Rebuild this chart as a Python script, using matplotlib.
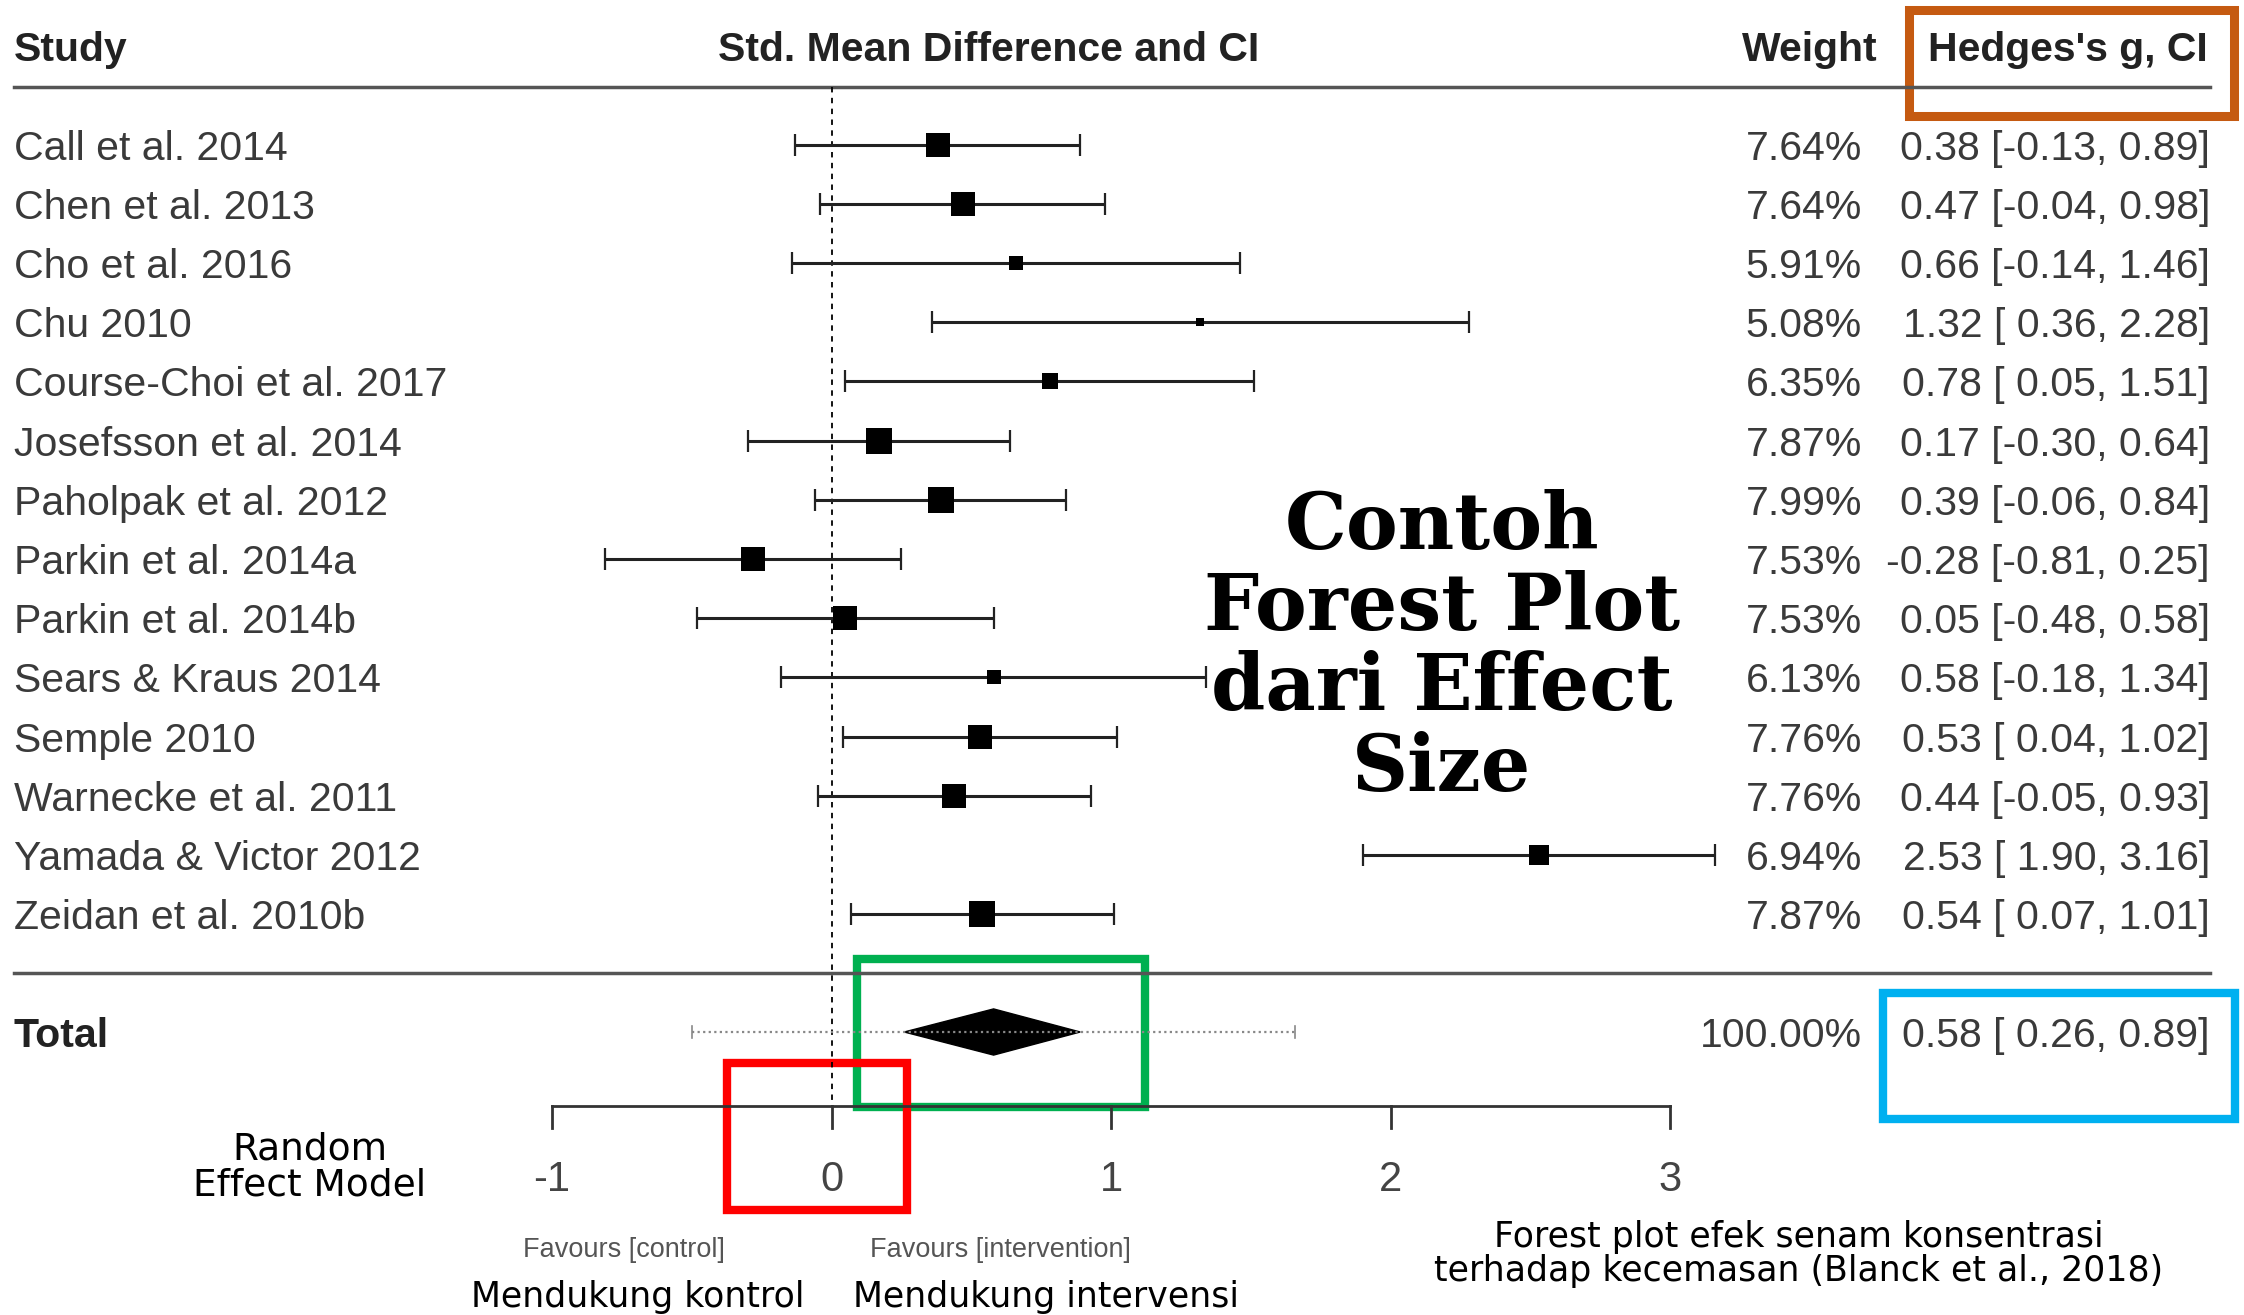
import matplotlib
matplotlib.use("Agg")
from matplotlib import pyplot as plt
from matplotlib.patches import Rectangle, Polygon

# Data
studies = ["Call et al. 2014", "Chen et al. 2013", "Cho et al. 2016", "Chu 2010",
           "Course-Choi et al. 2017", "Josefsson et al. 2014", "Paholpak et al. 2012",
           "Parkin et al. 2014a", "Parkin et al. 2014b", "Sears & Kraus 2014",
           "Semple 2010", "Warnecke et al. 2011", "Yamada & Victor 2012",
           "Zeidan et al. 2010b"]
weights = [7.64, 7.64, 5.91, 5.08, 6.35, 7.87, 7.99, 7.53, 7.53, 6.13, 7.76, 7.76, 6.94, 7.87]
g = [0.38, 0.47, 0.66, 1.32, 0.78, 0.17, 0.39, -0.28, 0.05, 0.58, 0.53, 0.44, 2.53, 0.54]
ci_low = [-0.13, -0.04, -0.14, 0.36, 0.05, -0.30, -0.06, -0.81, -0.48, -0.18, 0.04, -0.05, 1.90, 0.07]
ci_high = [0.89, 0.98, 1.46, 2.28, 1.51, 0.64, 0.84, 0.25, 0.58, 1.34, 1.02, 0.93, 3.16, 1.01]

total_g, total_low, total_high = 0.58, 0.26, 0.89
pred_low, pred_high = -0.50, 1.66
axis_ticks = [-1, 0, 1, 2, 3]

# layout helpers: figure pixels -> data (x in effect units, y in rows)
X0, UNIT = 831.5, 279.5
ROW0, ROWH = 144.5, 59.2
def px(x):
    return (x - X0) / UNIT
def py(y):
    return (y - ROW0) / ROWH

fig = plt.figure(figsize=(22.44, 13.15), dpi=100)
ax = fig.add_axes([0, 0, 1, 1])
ax.set_xlim(px(0), px(2244))
ax.set_ylim(py(1315), py(0))
ax.axis("off")

TXT = "#3a3a3a"
FONT = "Liberation Sans"
HAND = "DejaVu Sans"
FS = 29.5
DY = 0.07  # nudge text down to sit on the row

# Headers
ax.text(px(14), py(50), "Study", fontsize=FS, fontweight="bold", family=FONT, color="#222222", va="center")
ax.text(px(989), py(50), "Std. Mean Difference and CI", fontsize=FS, fontweight="bold", family=FONT,
        color="#222222", va="center", ha="center")
ax.text(px(1878), py(50), "Weight", fontsize=FS, fontweight="bold", family=FONT, color="#222222",
        va="center", ha="right")
ax.text(px(2208), py(50), "Hedges's g, CI", fontsize=FS, fontweight="bold", family=FONT,
        color="#222222", va="center", ha="right")
ax.plot([px(14), px(2210)], [py(87)] * 2, color="#555555", lw=2.5)
ax.plot([px(14), px(2210)], [py(973)] * 2, color="#555555", lw=2.5)

# zero line
ax.plot([0, 0], [py(87), py(1106)], color="black", lw=1.3, ls=(0, (3, 3)))

# Studies
for i, name in enumerate(studies):
    ax.text(px(14), i + DY, name, fontsize=FS, family=FONT, color=TXT, va="center")
    ax.errorbar(g[i], i, xerr=[[g[i] - ci_low[i]], [ci_high[i] - g[i]]], fmt="none",
                ecolor="#222222", elinewidth=2.2, capsize=8, capthick=1.6)
    ms = 4.3 * (weights[i] - 3.62)
    ax.plot(g[i], i, marker="s", color="black", ms=ms, mew=0)
    ax.text(px(1862), i + DY, f"{weights[i]:.2f}%", fontsize=FS, family=FONT, color=TXT,
            va="center", ha="right")
    ax.text(px(2210), i + DY, f"{g[i]:.2f} [{ci_low[i]:5.2f}, {ci_high[i]:.2f}]", fontsize=FS,
            family=FONT, color=TXT, va="center", ha="right")

# Total
yt = py(1032)
ax.text(px(14), yt + DY, "Total", fontsize=FS, fontweight="bold", family=FONT, color="#222222", va="center")
ax.plot([pred_low, pred_high], [yt, yt], color="#888888", lw=1.6, ls=(0, (1, 1.5)))
ax.plot([pred_low, pred_low], [yt - 0.1, yt + 0.1], color="#888888", lw=1.2)
ax.plot([pred_high, pred_high], [yt - 0.1, yt + 0.1], color="#888888", lw=1.2)
ax.add_patch(Polygon([[total_low, yt], [total_g, yt - 0.39], [total_high, yt], [total_g, yt + 0.39]],
                     closed=True, color="black"))
ax.text(px(1862), yt + DY, "100.00%", fontsize=FS, family=FONT, color=TXT, va="center", ha="right")
ax.text(px(2210), yt + DY, f"{total_g:.2f} [{total_low:5.2f}, {total_high:.2f}]", fontsize=FS,
        family=FONT, color=TXT, va="center", ha="right")

# x axis
ya = py(1106)
ax.plot([axis_ticks[0], axis_ticks[-1]], [ya, ya], color="#333333", lw=2)
for t in axis_ticks:
    ax.plot([t, t], [ya, py(1128)], color="#333333", lw=2)
    ax.text(t, py(1180), f"{t}", fontsize=30, family=FONT, color="#444444", ha="center", va="center")
ax.text(px(624), py(1250), "Favours [control]", fontsize=19.5, family=FONT, color="#555555",
        ha="center", va="center")
ax.text(px(1000), py(1250), "Favours [intervention]", fontsize=19.5, family=FONT, color="#555555",
        ha="center", va="center")

# Annotations
ax.text(px(1442), py(648), "Contoh\nForest Plot\ndari Effect\nSize", fontsize=56, family="DejaVu Serif",
        fontweight="bold", color="black", ha="center", va="center", linespacing=1.08)
ax.text(px(310), py(1167), "Random\nEffect Model", fontsize=27, family=HAND, color="black",
        ha="center", va="center", linespacing=1.0)
ax.text(px(638), py(1297), "Mendukung kontrol", fontsize=25, family=HAND, color="black",
        ha="center", va="center")
ax.text(px(1046), py(1297), "Mendukung intervensi", fontsize=25, family=HAND, color="black",
        ha="center", va="center")
ax.text(px(1799), py(1254), "Forest plot efek senam konsentrasi\nterhadap kecemasan (Blanck et al., 2018)",
        fontsize=25, family=HAND, color="black", ha="center", va="center", linespacing=1.02)

# Highlight boxes
def box(x1, y1, x2, y2, color, lw):
    ax.add_patch(Rectangle((px(x1), py(y1)), px(x2) - px(x1), py(y2) - py(y1),
                           fill=False, edgecolor=color, lw=lw))

box(1909, 10, 2234, 116, "#c55a11", 6.5)
box(857, 959, 1145, 1107, "#00b050", 6)
box(727, 1063, 907, 1210, "#ff0000", 6)
box(1883, 993, 2235, 1119, "#00b0f0", 6)

fig.savefig("out.png", dpi=100)
